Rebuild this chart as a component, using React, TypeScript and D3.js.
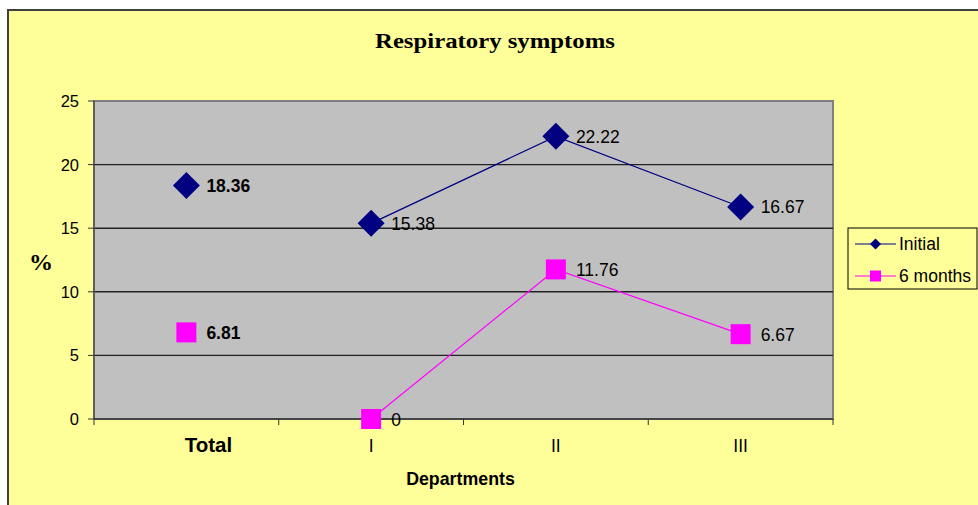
import React from "react";
import * as d3 from "d3";

const categories = ["Total", "I", "II", "III"];
const initialValues = [18.36, 15.38, 22.22, 16.67];
const sixMonthValues = [6.81, 0, 11.76, 6.67];
const yTicks = [0, 5, 10, 15, 20, 25];
const seriesNames = ["Initial", "6 months"];

const W = 978;
const H = 505;
const plot = { left: 94, right: 833, top: 101, bottom: 419 };

export default function App() {
  const x = d3.scaleBand().domain(categories).range([plot.left, plot.right]).padding(0);
  const y = d3.scaleLinear().domain([0, 25]).range([plot.bottom, plot.top]);
  const cx = (c: string) => (x(c) as number) + x.bandwidth() / 2;
  const line = d3
    .line<[string, number]>()
    .x((d) => cx(d[0]))
    .y((d) => y(d[1]));
  const initPts: [string, number][] = categories.map((c, i) => [c, initialValues[i]]);
  const sixPts: [string, number][] = categories.map((c, i) => [c, sixMonthValues[i]]);
  const diamond = (px: number, py: number, r: number) =>
    `M${px},${py - r}L${px + r},${py}L${px},${py + r}L${px - r},${py}Z`;
  const font = "Arial, 'Liberation Sans', sans-serif";
  const serif = "'Liberation Serif', 'Times New Roman', serif";
  const tickX = [...categories.map((c) => x(c) as number), plot.right];

  return (
    <svg width={W} height={H} style={{ position: "absolute", left: 0, top: 0 }}>
      <rect x={0} y={0} width={W} height={H} fill="#ffffff" />
      <rect x={8} y={10} width={W} height={H} fill="#ffff99" stroke="#404040" strokeWidth={2} />
      <text x={495} y={48} textAnchor="middle" fontFamily={serif} fontWeight="bold" fontSize={22} textLength={240} lengthAdjust="spacingAndGlyphs">
        Respiratory symptoms
      </text>
      <rect x={plot.left} y={plot.top} width={plot.right - plot.left} height={plot.bottom - plot.top} fill="#c0c0c0" stroke="#808080" strokeWidth={2} />
      {yTicks.filter((t) => t > 0 && t < 25).map((t) => (
        <line key={t} x1={plot.left} x2={plot.right} y1={y(t)} y2={y(t)} stroke="#222" strokeWidth={1.4} />
      ))}
      <line x1={plot.left} x2={plot.left} y1={plot.top} y2={plot.bottom} stroke="#555" strokeWidth={1.5} />
      <line x1={plot.left} x2={plot.right} y1={plot.bottom} y2={plot.bottom} stroke="#333" strokeWidth={1.5} />
      {yTicks.map((t) => (
        <g key={t}>
          <line x1={plot.left - 6} x2={plot.left} y1={y(t)} y2={y(t)} stroke="#333" />
          <text x={79} y={y(t) + 6} textAnchor="end" fontFamily={font} fontSize={16.5} fill="#000">
            {t}
          </text>
        </g>
      ))}
      {tickX.map((tx, i) => (
        <line key={i} x1={tx} x2={tx} y1={plot.bottom} y2={plot.bottom + 6} stroke="#333" />
      ))}
      {categories.map((c, i) => (
        <text key={c} x={cx(c) + (i === 0 ? 22 : 0)} y={452} textAnchor="middle" fontFamily={font} fontSize={i === 0 ? 20.5 : 17.5} fontWeight={i === 0 ? "bold" : "normal"}>
          {c}
        </text>
      ))}
      <text x={460.5} y={485} textAnchor="middle" fontFamily={font} fontWeight="bold" fontSize={17.8}>
        Departments
      </text>
      <text x={41} y={270} textAnchor="middle" fontFamily={serif} fontWeight="bold" fontSize={24}>
        %
      </text>
      <path d={line(initPts.slice(1)) || ""} fill="none" stroke="#000080" strokeWidth={1.2} />
      <path d={line(sixPts.slice(1)) || ""} fill="none" stroke="#ff00ff" strokeWidth={1.2} />
      {initPts.map(([c, v], i) => (
        <g key={"i" + c}>
          <path d={diamond(cx(c), y(v), 13.5)} fill="#000080" />
          <text x={cx(c) + 20} y={y(v) + 6.5} fontFamily={font} fontSize={17.5} fontWeight={i === 0 ? "bold" : "normal"}>
            {v}
          </text>
        </g>
      ))}
      {sixPts.map(([c, v], i) => (
        <g key={"s" + c}>
          <rect x={cx(c) - 10} y={y(v) - 10} width={20} height={20} fill="#ff00ff" />
          <text x={cx(c) + 20} y={y(v) + 6.5} fontFamily={font} fontSize={17.5} fontWeight={i === 0 ? "bold" : "normal"}>
            {v}
          </text>
        </g>
      ))}
      <rect x={848} y={228} width={129} height={61} fill="#ffff99" stroke="#000" strokeWidth={1} />
      {seriesNames.map((n, i) => {
        const ly = 244 + i * 32;
        return (
          <g key={n}>
            <line x1={855} x2={896} y1={ly} y2={ly} stroke={i === 0 ? "#000080" : "#ff00ff"} />
            {i === 0 ? <path d={diamond(875.5, ly, 5.5)} fill="#000080" /> : <rect x={870} y={ly - 5.5} width={11} height={11} fill="#ff00ff" />}
            <text x={899} y={ly + 6} fontFamily={font} fontSize={17.5}>
              {n}
            </text>
          </g>
        );
      })}
    </svg>
  );
}
